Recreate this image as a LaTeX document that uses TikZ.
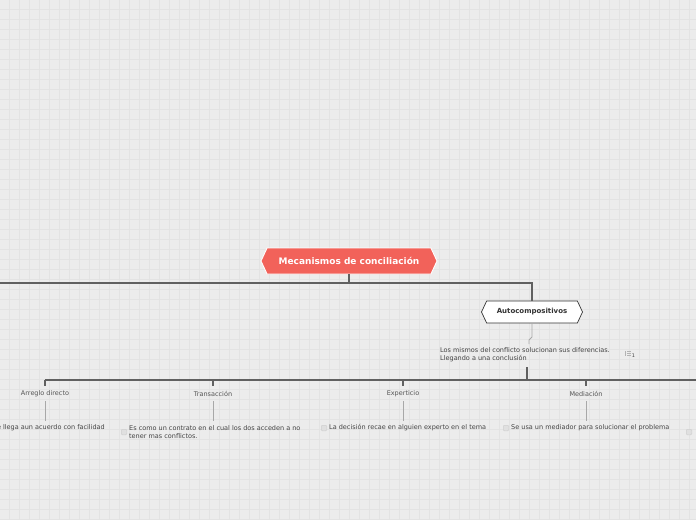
\documentclass[tikz,border=0pt]{standalone}
\usepackage{fontspec}
\setmainfont{DejaVu Sans}
\usetikzlibrary{shapes.symbols}
\definecolor{bgc}{HTML}{ECECEC}
\definecolor{gridc}{HTML}{E3E3E3}
\definecolor{coral}{HTML}{F2625A}
\definecolor{darkline}{HTML}{606060}
\definecolor{lightline}{HTML}{A8A8A8}
\definecolor{txtc}{HTML}{444444}
\definecolor{lblc}{HTML}{555555}
\definecolor{chkc}{HTML}{D0D0D0}
\tikzset{
  rootnode/.style={signal, signal to=west and east, signal pointer angle=130,
    fill=coral, draw=white, line width=0.9pt, text=white,
    font=\fontsize{9}{10}\selectfont\bfseries, minimum width=176pt, minimum height=26pt, inner sep=0pt},
  subnode/.style={signal, signal to=west and east, signal pointer angle=130,
    fill=white, draw=black!80, line width=0.7pt, text=black!80,
    font=\fontsize{7}{8}\selectfont\bfseries, minimum width=101pt, minimum height=22pt, inner sep=0pt},
  darkc/.style={draw=darkline, line width=1.1pt},
  lightc/.style={draw=lightline, line width=0.8pt},
  lbl/.style={text=lblc, font=\fontsize{6.5}{8}\selectfont, inner sep=1pt},
  body/.style={text=txtc, font=\fontsize{6.5}{8}\selectfont, inner sep=0pt, align=left},
  chk/.style={draw=chkc, fill=bgc!95!black, rounded corners=1pt, line width=0.5pt, minimum size=5.5pt, inner sep=0pt},
}
\begin{document}
\begin{tikzpicture}[x=1pt,y=-1pt]
\useasboundingbox (0,0) rectangle (696,520);
\clip (0,0) rectangle (696,520);
\fill[bgc] (0,0) rectangle (696,520);
\foreach \g in {9.5,19.5,...,699.5} \draw[gridc, line width=0.6pt] (\g,0) -- (\g,520);
\foreach \g in {9.5,19.5,...,519.5} \draw[gridc, line width=0.6pt] (0,\g) -- (696,\g);

% nodes
\node[rootnode] (root) at (349,261) {Mecanismos de conciliación};
\node[subnode] (auto) at (532,312) {Autocompositivos};
\node[body, anchor=west] (desc) at (440,355) {Los mismos del conflicto solucionan sus diferencias.\\Llegando a una conclusión};

\node[lbl] (l1) at (45,394) {Arreglo directo};
\node[lbl] (l2) at (213,394) {Transacción};
\node[lbl] (l3) at (403,394) {Experticio};
\node[lbl] (l4) at (586,394) {Mediación};

\node[body, anchor=east] (t1) at (105,428) {Se llega aun acuerdo con facilidad};
\node[body, anchor=west] (t2) at (129,432) {Es como un contrato en el cual los dos acceden a no\\tener mas conflictos.};
\node[body, anchor=west] (t3) at (329,428) {La decisión recae en alguien experto en el tema};
\node[body, anchor=west] (t4) at (511,428) {Se usa un mediador para solucionar el problema};

\node[chk] (k2) at (124,432) {};
\node[chk] (k3) at (324,428) {};
\node[chk] (k4) at (506,428) {};
\node[chk] (k5) at (689,432) {};

% note icon
\node[inner sep=0pt, minimum width=6pt, minimum height=6pt] (note) at (628,353) {};
\fill[black!30] (625,350.5) rectangle (626,356);
\fill[black!30] (627,350.5) rectangle (631,351.5);
\fill[black!30] (627,352.7) rectangle (631,353.7);
\fill[black!30] (627,354.9) rectangle (631,355.9);
\node[text=txtc, font=\fontsize{5}{6}\selectfont, inner sep=0pt] (noten) at (633.5,355.5) {1};

% coordinates
\coordinate (lft) at (0,283);
\coordinate (j0) at (349,283);
\coordinate (bend) at (532,337);
\coordinate (bend2) at (529,340);
\coordinate (dtop) at (529,344);
\coordinate (dbot) at (527,367);
\coordinate (bar) at (527,380);
\coordinate (barL) at (45,380);
\coordinate (barR) at (696,380);
\foreach \n/\x in {1/45,2/213,3/403,4/586} {
  \coordinate (a\n) at (\x,380);
  \coordinate (b\n) at (\x,386);
  \coordinate (c\n) at (\x,401);
  \coordinate (d\n) at (\x,421);
}

% connectors
\draw[darkc] (root.south) -- (j0);
\draw[darkc] (lft) -- (auto.north |- lft) -- (auto.north);
\draw[lightc] (auto.south) -- (bend) to[out=-90,in=90] (bend2) -- (dtop);
\draw[darkc] (dbot) -- (bar);
\draw[darkc] (barL) -- (barR);
\foreach \n in {1,2,3,4} {
  \draw[darkc] (a\n) -- (b\n);
  \draw[lightc] (c\n) -- (d\n);
}
\end{tikzpicture}
\end{document}
